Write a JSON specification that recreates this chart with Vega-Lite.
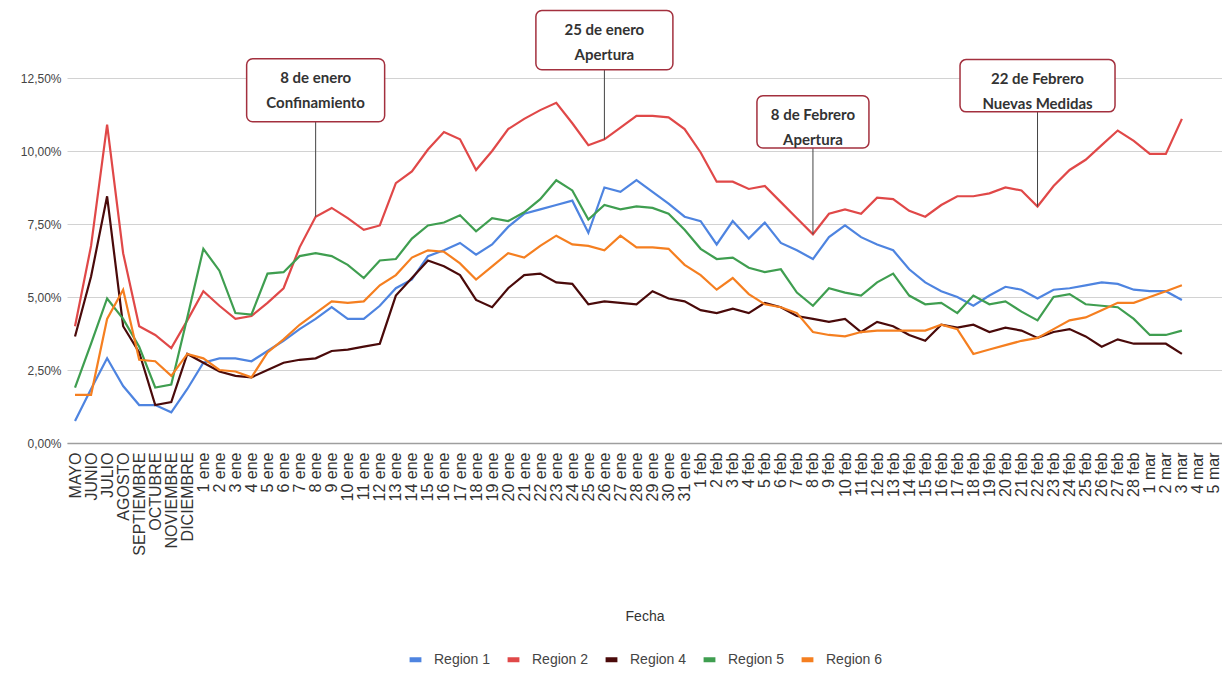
{
  "$schema": "https://vega.github.io/schema/vega-lite/v6.json",
  "width": 1155,
  "height": 438,
  "autosize": {"type": "none"},
  "padding": {"left": 67, "top": 5, "right": 0, "bottom": 232},
  "background": "white",
  "config": {
    "locale": {"number": {"decimal": ",", "thousands": ".", "grouping": [3], "currency": ["", " €"]}},
    "view": {"stroke": null},
    "font": "Liberation Sans",
    "axisY": {
      "domain": false,
      "ticks": false,
      "labelFont": "Liberation Sans",
      "labelFontSize": 12,
      "labelColor": "#444444",
      "labelPadding": 6,
      "gridColor": "#d2d2d2",
      "gridWidth": 1
    },
    "legend": {
      "orient": "bottom",
      "direction": "horizontal",
      "title": null,
      "labelFont": "Liberation Sans",
      "labelFontSize": 14,
      "labelColor": "#444444",
      "symbolType": "stroke",
      "symbolStrokeWidth": 5,
      "symbolSize": 140,
      "columnPadding": 6,
      "labelOffset": 10,
      "offset": 27,
      "layout": {"bottom": {"anchor": "middle"}}
    }
  },
  "datasets": {
    "serie": [
      {"fecha": "MAYO", "Region 1": 0.0075, "Region 2": 0.04, "Region 4": 0.0365, "Region 5": 0.019, "Region 6": 0.0165},
      {"fecha": "JUNIO", "Region 1": 0.0185, "Region 2": 0.0675, "Region 4": 0.057, "Region 5": 0.034, "Region 6": 0.0165},
      {"fecha": "JULIO", "Region 1": 0.029, "Region 2": 0.109, "Region 4": 0.0845, "Region 5": 0.0495, "Region 6": 0.0425},
      {"fecha": "AGOSTO", "Region 1": 0.0195, "Region 2": 0.065, "Region 4": 0.04, "Region 5": 0.0425, "Region 6": 0.0525},
      {"fecha": "SEPTIEMBRE", "Region 1": 0.013, "Region 2": 0.04, "Region 4": 0.031, "Region 5": 0.033, "Region 6": 0.0285},
      {"fecha": "OCTUBRE", "Region 1": 0.013, "Region 2": 0.037, "Region 4": 0.013, "Region 5": 0.019, "Region 6": 0.028},
      {"fecha": "NOVIEMBRE", "Region 1": 0.0105, "Region 2": 0.0325, "Region 4": 0.014, "Region 5": 0.02, "Region 6": 0.023},
      {"fecha": "DICIEMBRE", "Region 1": 0.0185, "Region 2": 0.042, "Region 4": 0.0305, "Region 5": 0.043, "Region 6": 0.0305},
      {"fecha": "1 ene", "Region 1": 0.0275, "Region 2": 0.052, "Region 4": 0.0275, "Region 5": 0.0665, "Region 6": 0.029},
      {"fecha": "2 ene", "Region 1": 0.029, "Region 2": 0.047, "Region 4": 0.0245, "Region 5": 0.059, "Region 6": 0.025},
      {"fecha": "3 ene", "Region 1": 0.029, "Region 2": 0.0425, "Region 4": 0.023, "Region 5": 0.0445, "Region 6": 0.0245},
      {"fecha": "4 ene", "Region 1": 0.028, "Region 2": 0.0435, "Region 4": 0.0225, "Region 5": 0.044, "Region 6": 0.0225},
      {"fecha": "5 ene", "Region 1": 0.0315, "Region 2": 0.048, "Region 4": 0.025, "Region 5": 0.058, "Region 6": 0.031},
      {"fecha": "6 ene", "Region 1": 0.035, "Region 2": 0.053, "Region 4": 0.0275, "Region 5": 0.0585, "Region 6": 0.0355},
      {"fecha": "7 ene", "Region 1": 0.039, "Region 2": 0.067, "Region 4": 0.0285, "Region 5": 0.064, "Region 6": 0.0405},
      {"fecha": "8 ene", "Region 1": 0.0425, "Region 2": 0.0775, "Region 4": 0.029, "Region 5": 0.065, "Region 6": 0.0445},
      {"fecha": "9 ene", "Region 1": 0.0465, "Region 2": 0.0805, "Region 4": 0.0315, "Region 5": 0.064, "Region 6": 0.0485},
      {"fecha": "10 ene", "Region 1": 0.0425, "Region 2": 0.077, "Region 4": 0.032, "Region 5": 0.061, "Region 6": 0.048},
      {"fecha": "11 ene", "Region 1": 0.0425, "Region 2": 0.073, "Region 4": 0.033, "Region 5": 0.0565, "Region 6": 0.0485},
      {"fecha": "12 ene", "Region 1": 0.047, "Region 2": 0.0745, "Region 4": 0.034, "Region 5": 0.0625, "Region 6": 0.054},
      {"fecha": "13 ene", "Region 1": 0.053, "Region 2": 0.089, "Region 4": 0.0505, "Region 5": 0.063, "Region 6": 0.0575},
      {"fecha": "14 ene", "Region 1": 0.056, "Region 2": 0.093, "Region 4": 0.0565, "Region 5": 0.07, "Region 6": 0.0635},
      {"fecha": "15 ene", "Region 1": 0.064, "Region 2": 0.1005, "Region 4": 0.0625, "Region 5": 0.0745, "Region 6": 0.066},
      {"fecha": "16 ene", "Region 1": 0.066, "Region 2": 0.1065, "Region 4": 0.0605, "Region 5": 0.0755, "Region 6": 0.0655},
      {"fecha": "17 ene", "Region 1": 0.0685, "Region 2": 0.104, "Region 4": 0.0575, "Region 5": 0.078, "Region 6": 0.0615},
      {"fecha": "18 ene", "Region 1": 0.0645, "Region 2": 0.0935, "Region 4": 0.049, "Region 5": 0.0725, "Region 6": 0.056},
      {"fecha": "19 ene", "Region 1": 0.068, "Region 2": 0.1, "Region 4": 0.0465, "Region 5": 0.077, "Region 6": 0.0605},
      {"fecha": "20 ene", "Region 1": 0.074, "Region 2": 0.1075, "Region 4": 0.053, "Region 5": 0.076, "Region 6": 0.065},
      {"fecha": "21 ene", "Region 1": 0.0785, "Region 2": 0.111, "Region 4": 0.0575, "Region 5": 0.079, "Region 6": 0.0635},
      {"fecha": "22 ene", "Region 1": 0.08, "Region 2": 0.114, "Region 4": 0.058, "Region 5": 0.0835, "Region 6": 0.0675},
      {"fecha": "23 ene", "Region 1": 0.0815, "Region 2": 0.1165, "Region 4": 0.055, "Region 5": 0.09, "Region 6": 0.071},
      {"fecha": "24 ene", "Region 1": 0.083, "Region 2": 0.1095, "Region 4": 0.0545, "Region 5": 0.0865, "Region 6": 0.068},
      {"fecha": "25 ene", "Region 1": 0.072, "Region 2": 0.102, "Region 4": 0.0475, "Region 5": 0.0765, "Region 6": 0.0675},
      {"fecha": "26 ene", "Region 1": 0.0875, "Region 2": 0.104, "Region 4": 0.0485, "Region 5": 0.0815, "Region 6": 0.066},
      {"fecha": "27 ene", "Region 1": 0.086, "Region 2": 0.108, "Region 4": 0.048, "Region 5": 0.08, "Region 6": 0.071},
      {"fecha": "28 ene", "Region 1": 0.09, "Region 2": 0.112, "Region 4": 0.0475, "Region 5": 0.081, "Region 6": 0.067},
      {"fecha": "29 ene", "Region 1": 0.086, "Region 2": 0.112, "Region 4": 0.052, "Region 5": 0.0805, "Region 6": 0.067},
      {"fecha": "30 ene", "Region 1": 0.082, "Region 2": 0.1115, "Region 4": 0.0495, "Region 5": 0.0785, "Region 6": 0.0665},
      {"fecha": "31 ene", "Region 1": 0.0775, "Region 2": 0.1075, "Region 4": 0.0485, "Region 5": 0.073, "Region 6": 0.061},
      {"fecha": "1 feb", "Region 1": 0.076, "Region 2": 0.0995, "Region 4": 0.0455, "Region 5": 0.0665, "Region 6": 0.0575},
      {"fecha": "2 feb", "Region 1": 0.068, "Region 2": 0.0895, "Region 4": 0.0445, "Region 5": 0.063, "Region 6": 0.0525},
      {"fecha": "3 feb", "Region 1": 0.076, "Region 2": 0.0895, "Region 4": 0.046, "Region 5": 0.0635, "Region 6": 0.0565},
      {"fecha": "4 feb", "Region 1": 0.07, "Region 2": 0.087, "Region 4": 0.0445, "Region 5": 0.06, "Region 6": 0.051},
      {"fecha": "5 feb", "Region 1": 0.0755, "Region 2": 0.088, "Region 4": 0.048, "Region 5": 0.0585, "Region 6": 0.0475},
      {"fecha": "6 feb", "Region 1": 0.0685, "Region 2": 0.0825, "Region 4": 0.0465, "Region 5": 0.0595, "Region 6": 0.0465},
      {"fecha": "7 feb", "Region 1": 0.066, "Region 2": 0.077, "Region 4": 0.0435, "Region 5": 0.0515, "Region 6": 0.0445},
      {"fecha": "8 feb", "Region 1": 0.063, "Region 2": 0.0715, "Region 4": 0.0425, "Region 5": 0.047, "Region 6": 0.038},
      {"fecha": "9 feb", "Region 1": 0.0705, "Region 2": 0.0785, "Region 4": 0.0415, "Region 5": 0.053, "Region 6": 0.037},
      {"fecha": "10 feb", "Region 1": 0.0745, "Region 2": 0.08, "Region 4": 0.0425, "Region 5": 0.0515, "Region 6": 0.0365},
      {"fecha": "11 feb", "Region 1": 0.0705, "Region 2": 0.0785, "Region 4": 0.038, "Region 5": 0.0505, "Region 6": 0.038},
      {"fecha": "12 feb", "Region 1": 0.068, "Region 2": 0.084, "Region 4": 0.0415, "Region 5": 0.055, "Region 6": 0.0385},
      {"fecha": "13 feb", "Region 1": 0.066, "Region 2": 0.0835, "Region 4": 0.04, "Region 5": 0.058, "Region 6": 0.0385},
      {"fecha": "14 feb", "Region 1": 0.0595, "Region 2": 0.0795, "Region 4": 0.037, "Region 5": 0.0505, "Region 6": 0.0385},
      {"fecha": "15 feb", "Region 1": 0.055, "Region 2": 0.0775, "Region 4": 0.035, "Region 5": 0.0475, "Region 6": 0.0385},
      {"fecha": "16 feb", "Region 1": 0.052, "Region 2": 0.0815, "Region 4": 0.0405, "Region 5": 0.048, "Region 6": 0.0405},
      {"fecha": "17 feb", "Region 1": 0.05, "Region 2": 0.0845, "Region 4": 0.0395, "Region 5": 0.0445, "Region 6": 0.039},
      {"fecha": "18 feb", "Region 1": 0.047, "Region 2": 0.0845, "Region 4": 0.0405, "Region 5": 0.0505, "Region 6": 0.0305},
      {"fecha": "19 feb", "Region 1": 0.0505, "Region 2": 0.0855, "Region 4": 0.038, "Region 5": 0.0475, "Region 6": 0.032},
      {"fecha": "20 feb", "Region 1": 0.0535, "Region 2": 0.0875, "Region 4": 0.0395, "Region 5": 0.0485, "Region 6": 0.0335},
      {"fecha": "21 feb", "Region 1": 0.0525, "Region 2": 0.0865, "Region 4": 0.0385, "Region 5": 0.045, "Region 6": 0.035},
      {"fecha": "22 feb", "Region 1": 0.0495, "Region 2": 0.081, "Region 4": 0.036, "Region 5": 0.042, "Region 6": 0.036},
      {"fecha": "23 feb", "Region 1": 0.0525, "Region 2": 0.088, "Region 4": 0.038, "Region 5": 0.05, "Region 6": 0.039},
      {"fecha": "24 feb", "Region 1": 0.053, "Region 2": 0.0935, "Region 4": 0.039, "Region 5": 0.051, "Region 6": 0.042},
      {"fecha": "25 feb", "Region 1": 0.054, "Region 2": 0.097, "Region 4": 0.0365, "Region 5": 0.0475, "Region 6": 0.043},
      {"fecha": "26 feb", "Region 1": 0.055, "Region 2": 0.102, "Region 4": 0.033, "Region 5": 0.047, "Region 6": 0.0455},
      {"fecha": "27 feb", "Region 1": 0.0545, "Region 2": 0.107, "Region 4": 0.0355, "Region 5": 0.0465, "Region 6": 0.048},
      {"fecha": "28 feb", "Region 1": 0.0525, "Region 2": 0.1035, "Region 4": 0.034, "Region 5": 0.0425, "Region 6": 0.048},
      {"fecha": "1 mar", "Region 1": 0.052, "Region 2": 0.099, "Region 4": 0.034, "Region 5": 0.037, "Region 6": 0.05},
      {"fecha": "2 mar", "Region 1": 0.052, "Region 2": 0.099, "Region 4": 0.034, "Region 5": 0.037, "Region 6": 0.052},
      {"fecha": "3 mar", "Region 1": 0.049, "Region 2": 0.111, "Region 4": 0.0305, "Region 5": 0.0385, "Region 6": 0.054}
    ],
    "anotaciones": [
      {"fecha": "8 ene", "texto": ["8 de enero", "Confinamiento"], "sup": 0.1316, "inf": 0.11},
      {"fecha": "26 ene", "texto": ["25 de enero", "Apertura"], "sup": 0.1481, "inf": 0.1278},
      {"fecha": "8 feb", "texto": ["8 de Febrero", "Apertura"], "sup": 0.1189, "inf": 0.101},
      {"fecha": "22 feb", "texto": ["22 de Febrero", "Nuevas Medidas"], "sup": 0.1313, "inf": 0.1134}
    ]
  },
  "encoding": {
    "x": {
      "field": "fecha",
      "type": "ordinal",
      "scale": {
        "type": "point",
        "padding": 0.5,
        "domain": ["MAYO", "JUNIO", "JULIO", "AGOSTO", "SEPTIEMBRE", "OCTUBRE", "NOVIEMBRE", "DICIEMBRE",
          "1 ene", "2 ene", "3 ene", "4 ene", "5 ene", "6 ene", "7 ene", "8 ene", "9 ene", "10 ene", "11 ene", "12 ene", "13 ene", "14 ene", "15 ene", "16 ene", "17 ene", "18 ene", "19 ene", "20 ene", "21 ene", "22 ene", "23 ene", "24 ene", "25 ene", "26 ene", "27 ene", "28 ene", "29 ene", "30 ene", "31 ene",
          "1 feb", "2 feb", "3 feb", "4 feb", "5 feb", "6 feb", "7 feb", "8 feb", "9 feb", "10 feb", "11 feb", "12 feb", "13 feb", "14 feb", "15 feb", "16 feb", "17 feb", "18 feb", "19 feb", "20 feb", "21 feb", "22 feb", "23 feb", "24 feb", "25 feb", "26 feb", "27 feb", "28 feb",
          "1 mar", "2 mar", "3 mar", "4 mar", "5 mar"]
      },
      "axis": {
        "title": "Fecha",
        "labelAngle": -90,
        "labelFont": "Liberation Sans",
        "labelFontSize": 16,
        "labelColor": "#333333",
        "labelPadding": 9,
        "labelOverlap": false,
        "ticks": false,
        "grid": false,
        "domainColor": "#9e9e9e",
        "domainWidth": 1.5,
        "titleFont": "Liberation Sans",
        "titleFontSize": 14,
        "titleFontWeight": "normal",
        "titleColor": "#333333",
        "titlePadding": 54
      }
    }
  },
  "layer": [
    {
      "data": {"name": "serie"},
      "transform": [{"fold": ["Region 1", "Region 2", "Region 4", "Region 5", "Region 6"], "as": ["region", "valor"]}],
      "mark": {"type": "line", "strokeWidth": 2.2},
      "encoding": {
        "y": {
          "field": "valor",
          "type": "quantitative",
          "scale": {"domain": [0, 0.15], "nice": false},
          "axis": {
            "title": null,
            "values": [0, 0.025, 0.05, 0.075, 0.1, 0.125],
            "format": ".2%"
          }
        },
        "color": {
          "field": "region",
          "type": "nominal",
          "scale": {
            "domain": ["Region 1", "Region 2", "Region 4", "Region 5", "Region 6"],
            "range": ["#4e84e0", "#e04848", "#4a0a0a", "#3f9e50", "#f57f20"]
          },
          "legend": {}
        }
      }
    },
    {
      "data": {"name": "anotaciones"},
      "transform": [{"lookup": "fecha", "from": {"data": {"name": "serie"}, "key": "fecha", "fields": ["Region 2"]}}],
      "mark": {"type": "rule", "color": "#444444", "strokeWidth": 1},
      "encoding": {
        "y": {"field": "inf", "type": "quantitative", "scale": {"domain": [0, 0.15], "nice": false}, "axis": {"title": null}},
        "y2": {"field": "Region 2"}
      }
    },
    {
      "data": {"name": "anotaciones"},
      "transform": [{"filter": "datum.fecha == '8 ene'"}],
      "mark": {"type": "rect", "width": 138, "fill": "white", "stroke": "#a3303e", "strokeWidth": 1.5, "cornerRadius": 6},
      "encoding": {
        "y": {"field": "sup", "type": "quantitative", "scale": {"domain": [0, 0.15], "nice": false}, "axis": {"title": null}},
        "y2": {"field": "inf"}
      }
    },
    {
      "data": {"name": "anotaciones"},
      "transform": [{"filter": "datum.fecha == '26 ene'"}],
      "mark": {"type": "rect", "width": 137, "fill": "white", "stroke": "#a3303e", "strokeWidth": 1.5, "cornerRadius": 6},
      "encoding": {
        "y": {"field": "sup", "type": "quantitative", "scale": {"domain": [0, 0.15], "nice": false}, "axis": {"title": null}},
        "y2": {"field": "inf"}
      }
    },
    {
      "data": {"name": "anotaciones"},
      "transform": [{"filter": "datum.fecha == '8 feb'"}],
      "mark": {"type": "rect", "width": 112, "fill": "white", "stroke": "#a3303e", "strokeWidth": 1.5, "cornerRadius": 6},
      "encoding": {
        "y": {"field": "sup", "type": "quantitative", "scale": {"domain": [0, 0.15], "nice": false}, "axis": {"title": null}},
        "y2": {"field": "inf"}
      }
    },
    {
      "data": {"name": "anotaciones"},
      "transform": [{"filter": "datum.fecha == '22 feb'"}],
      "mark": {"type": "rect", "width": 155, "fill": "white", "stroke": "#a3303e", "strokeWidth": 1.5, "cornerRadius": 6},
      "encoding": {
        "y": {"field": "sup", "type": "quantitative", "scale": {"domain": [0, 0.15], "nice": false}, "axis": {"title": null}},
        "y2": {"field": "inf"}
      }
    },
    {
      "data": {"name": "anotaciones"},
      "mark": {"type": "text", "font": "Lato", "fontWeight": "bold", "fontSize": 15, "color": "#333333", "align": "center", "baseline": "top", "dy": 12, "lineHeight": 25},
      "encoding": {
        "y": {"field": "sup", "type": "quantitative", "scale": {"domain": [0, 0.15], "nice": false}, "axis": {"title": null}},
        "text": {"field": "texto"}
      }
    }
  ]
}
